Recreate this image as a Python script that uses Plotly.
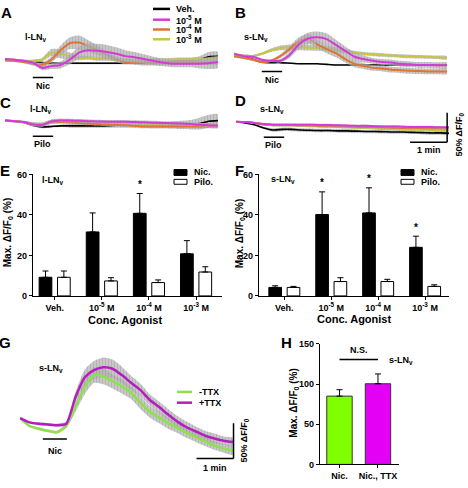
import plotly.graph_objects as go

W, H = 468, 488
FONT = "Liberation Sans, Arial, Helvetica, sans-serif"

# ---------------- data ----------------
# time base of the imaging traces (s)
t = [0, 15, 30, 45, 60, 75, 90, 105, 120, 135, 150, 165, 180, 195, 210, 225,
     240, 255, 270, 285, 300, 315, 330, 345]

# Panel A: l-LNv, nicotine (dF/F0 %)
a_veh = [0, 0, -1, -2, -3, -4, -4, -4, -4, -4, -4, -4, -4, -4, -3, -2.5, -2, -2, -1, 0, 0, 2, 7, 7.5]
a_veh_sem = [1, 1, 1, 1, 2, 2, 2, 2, 2, 2, 2, 2, 2, 2, 2, 2, 2, 3, 3, 4, 5, 6, 8, 8]
a_m5 = [3, 2, 0, -3, -12, -9, -7, 2, 14, 18, 17, 15, 12, 8, 6, 3, 0, -3, -5, -5, -5, -5, -4, -2]
a_m5_sem = [2, 2, 2, 3, 4, 5, 6, 8, 10, 12, 12, 12, 11, 10, 9, 8, 7, 6, 6, 6, 6, 8, 10, 10]
a_m4 = [2, 0, -2, -5, -7, 2, 18, 30, 31, 25, 18, 10, 3, -2, -3, -4, -4, -4, -3, -3, -3, -3, -3, -3]
a_m4_sem = [2, 2, 2, 3, 4, 5, 8, 10, 12, 10, 8, 6, 5, 4, 4, 4, 4, 4, 4, 4, 4, 4, 4, 4]
a_m3 = [0, 0, 0, 0, 2, 14, 12, 8, 5, 5, 3, 3, 2, 2, 1, 1, 2, 2, 2, 2.5, 2.5, 2.5, 2.5, 2.5]
a_m3_sem = [2, 2, 2, 2, 3, 6, 8, 6, 4, 3, 3, 3, 3, 3, 3, 3, 3, 3, 3, 3, 3, 3, 3, 3]

# Panel B: s-LNv, nicotine
b_veh = [8, 7, 3, -2.5, -3, -3, -4, -5, -5, -5, -6, -7, -7, -7, -7, -7, -7, -7, -7, -7, -7, -7, -7, -7]
b_veh_sem = [1] * 24
b_m5 = [12, 8, 7, 2, 0, 0, 10, 28, 38, 40, 37, 27, 17, 7, 3, 0, -2, -3, -5, -6, -7, -7, -7.5, -7.5]
b_m5_sem = [2, 2, 2, 2, 2, 3, 5, 8, 10, 10, 10, 9, 8, 7, 6, 5, 5, 5, 5, 5, 5, 5, 5, 5]
b_m4 = [8, 5, 2, -2, 0, 8, 20, 33, 38, 28, 20, 13, 3, -5, -9, -12, -13, -15, -16, -17, -17.5, -18, -18, -18]
b_m4_sem = [2, 2, 2, 2, 2, 3, 5, 7, 8, 7, 7, 7, 6, 6, 5, 5, 5, 5, 5, 5, 5, 5, 5, 5]
b_m3 = [10, 9, 8, 12, 18, 22, 23, 23, 22.5, 22, 21, 19, 17, 14, 12, 11, 10, 9, 8, 7.5, 7, 6.5, 6, 5]
b_m3_sem = [2, 2, 2, 2, 3, 4, 5, 5, 5, 5, 5, 4, 4, 3, 3, 3, 3, 3, 3, 3, 3, 3, 3, 3]

# Panel C: l-LNv, pilocarpine
c_veh = [0, -1, -3, -8, -11, -10, -9, -9, -9, -9, -9, -9, -8, -8, -8, -8, -8, -8, -7.5, -7.5, -7, -5, -1, 0]
c_veh_sem = [1, 1, 1, 2, 2, 2, 2, 3, 3, 3, 3, 3, 4, 4, 4, 4, 5, 5, 6, 7, 8, 10, 11, 11]
c_m5 = [0, -1, -2.5, -6.5, -7.5, -1.5, 0, 0, -0.5, -1, -1.5, -2, -2, -2, -2.5, -3, -3.5, -4, -4.5, -5, -6, -7, -8, -8.5]
c_m4 = [0, -1, -2.5, -6, -7, -3, -2.5, -3, -4, -5, -6, -7, -7.5, -8, -9, -10, -10, -10, -10, -10, -10, -10, -10, -10]
c_m3 = [0, -1, -2.5, -6, -6, -1, 0, -1, -1.5, -2.5, -3, -4, -5, -6, -6, -7, -7, -7, -7, -7, -7, -7, -7, -7]
c_sem = [2, 2, 2, 3, 3, 3, 3, 3, 3, 3, 3, 3, 3, 3, 3, 3, 3, 3, 3, 3, 3, 3, 3, 3]

# Panel D: s-LNv, pilocarpine
d_veh = [-2, -4, -7, -12.5, -16, -15, -15, -16, -16.5, -17, -17, -17.5, -17.5, -18, -18.5, -18.5, -19, -19.5, -19.5, -20, -20.5, -21, -21, -21.5]
d_veh_sem = [1, 1, 2, 2, 3, 3, 3, 3, 3, 3, 3, 3, 3, 3, 3, 3, 3, 3, 3, 3, 3, 3, 3, 3]
d_m5 = [-2, -2.5, -4, -6, -7, -7, -7, -7, -7, -7.5, -7.5, -8, -8.5, -9, -9, -9.5, -10, -10, -10.5, -11, -11, -11, -11.5, -11.5]
d_m4 = [-2, -2.5, -4, -6.5, -7.5, -7.5, -7.5, -8, -8, -9, -9, -9.5, -10, -10.5, -11, -11, -11.5, -12, -12.5, -12.5, -13, -13, -13, -13]
d_m3 = [-2, -2.5, -4, -6.5, -8, -8, -8, -9, -9.5, -10, -10.5, -11, -11.5, -12, -12.5, -13, -14, -14.5, -15, -15.5, -15.5, -16, -16.5, -16.5]
d_sem = [1, 1, 1, 2, 2, 2, 2, 2, 2, 2, 2, 2, 2, 2, 2, 2, 2, 2, 2, 2, 2, 2, 2, 2]

# Panel G: s-LNv, nicotine -/+ TTX
g_ttx_minus = [-1, -12, -16, -19, -21, -12, 15, 43, 60, 58, 51, 44, 35, 21, 8, 0, -8, -15, -22, -28, -34, -40, -44, -47]
g_ttx_minus_sem = [1, 1, 2, 2, 2, 3, 7, 10, 11, 11, 10, 10, 9, 9, 8, 8, 8, 7, 7, 7, 7, 6, 6, 6]
g_ttx_plus = [-1, -7, -9, -10, -11, -9, 29, 57, 67, 71, 69, 60, 49, 39, 25, 15, 4, -6, -14, -20, -26, -30, -33, -35]
g_ttx_plus_sem = [1, 1, 2, 2, 2, 3, 7, 11, 13, 14, 13, 12, 10, 9, 8, 8, 8, 8, 8, 7, 7, 7, 6, 6]

# stimulus periods (s)
stim_ad = [45, 78]
stim_g = [37, 76]

# Panels E / F: max dF/F0 (%)
conc_labels = ["Veh.", "10<sup>-5</sup> M", "10<sup>-4</sup> M", "10<sup>-3</sup> M"]
conc_pos = [0, 1, 2, 3]
e_nic = [9.2, 31.6, 40.8, 20.8]
e_nic_err = [3.1, 9.4, 9.8, 6.5]
e_pilo = [9.2, 7.4, 6.6, 11.8]
e_pilo_err = [3.1, 1.6, 1.3, 2.6]
e_sig = [False, False, True, False]
f_nic = [4.2, 40.2, 41.0, 24.0]
f_nic_err = [0.8, 11.2, 12.4, 5.5]
f_pilo = [4.2, 7.1, 7.1, 4.7]
f_pilo_err = [0.5, 1.9, 1.1, 0.8]
f_sig = [False, True, True, True]
ef_yticks = [0, 20, 40, 60]

# Panel H
h_labels = ["Nic.", "Nic., TTX"]
h_pos = [0, 1]
h_vals = [85, 100.4]
h_err = [8, 12.2]
h_yticks = [0, 50, 100, 150]

# ---------------- styling ----------------
BLACK = "#000000"
MAG = "#d63ad6"
ORA = "#e07432"
YEL = "#c6c642"
BAND_FG = "#8c8c8c"
BAND_BG = "rgba(200,200,200,0.6)"
G_GREEN = "#8fe04c"
G_MAG = "#b71cc0"
H_GREEN = "#80ff00"
H_MAG = "#e300f5"


def b(s):
    return "<b>" + str(s) + "</b>"


def px(x):
    return x / W


def py(y):
    return 1 - y / H


def sfx(i):
    return "" if i == 1 else str(i)


fig = go.Figure()


def band(i, vals, sem):
    up = [v + s for v, s in zip(vals, sem)]
    lo = [v - s for v, s in zip(vals, sem)]
    fig.add_trace(go.Scatter(
        x=t + t[::-1], y=up + lo[::-1], mode="lines", fill="toself",
        fillcolor=BAND_BG,
        fillpattern=dict(shape="|", fgcolor=BAND_FG, bgcolor=BAND_BG, size=3, solidity=0.7),
        line=dict(width=0, shape="spline", smoothing=0.6),
        hoverinfo="skip", xaxis="x" + sfx(i), yaxis="y" + sfx(i)))


def line(i, vals, color, lw=2):
    fig.add_trace(go.Scatter(
        x=t, y=vals, mode="lines",
        line=dict(color=color, width=lw, shape="spline", smoothing=0.6),
        xaxis="x" + sfx(i), yaxis="y" + sfx(i)))


def series(i, vals, sem, color, lw=2):
    if sem is not None:
        band(i, vals, sem)
    line(i, vals, color, lw)


# A
series(1, a_veh, a_veh_sem, BLACK, 1.6)
series(1, a_m3, a_m3_sem, YEL)
series(1, a_m4, a_m4_sem, ORA)
series(1, a_m5, a_m5_sem, MAG)
# B
series(2, b_veh, b_veh_sem, BLACK, 1.6)
series(2, b_m3, b_m3_sem, YEL)
series(2, b_m4, b_m4_sem, ORA)
series(2, b_m5, b_m5_sem, MAG)
# C
series(3, c_veh, c_veh_sem, BLACK, 1.6)
series(3, c_m3, c_sem, YEL)
series(3, c_m4, c_sem, ORA)
series(3, c_m5, c_sem, MAG)
# D
series(4, d_veh, d_veh_sem, BLACK, 1.6)
series(4, d_m3, d_sem, YEL)
series(4, d_m4, d_sem, ORA)
series(4, d_m5, d_sem, MAG)
# G (bands first, then lines)
band(7, g_ttx_minus, g_ttx_minus_sem)
band(7, g_ttx_plus, g_ttx_plus_sem)
line(7, g_ttx_minus, G_GREEN, 2.5)
line(7, g_ttx_plus, G_MAG, 2.5)


def err(arr):
    return dict(type="data", symmetric=False, array=arr, arrayminus=[0] * len(arr),
                color=BLACK, thickness=1, width=3)


BW = 0.27
# E
fig.add_trace(go.Bar(x=conc_pos, y=e_nic, width=BW, offset=-0.33, marker=dict(color=BLACK, line=dict(color=BLACK, width=1)),
                     error_y=err(e_nic_err), xaxis="x5", yaxis="y5"))
fig.add_trace(go.Bar(x=conc_pos, y=e_pilo, width=BW, offset=0.06, marker=dict(color="white", line=dict(color=BLACK, width=1)),
                     error_y=err(e_pilo_err), xaxis="x5", yaxis="y5"))
# F
fig.add_trace(go.Bar(x=conc_pos, y=f_nic, width=BW, offset=-0.33, marker=dict(color=BLACK, line=dict(color=BLACK, width=1)),
                     error_y=err(f_nic_err), xaxis="x6", yaxis="y6"))
fig.add_trace(go.Bar(x=conc_pos, y=f_pilo, width=BW, offset=0.06, marker=dict(color="white", line=dict(color=BLACK, width=1)),
                     error_y=err(f_pilo_err), xaxis="x6", yaxis="y6"))
# H
fig.add_trace(go.Bar(x=h_pos, y=h_vals, width=0.66, marker=dict(color=[H_GREEN, H_MAG], line=dict(color="#333333", width=1)),
                     error_y=err(h_err), xaxis="x8", yaxis="y8"))

# ---------------- axes ----------------
axes = {}


def hidden_axes(i, xd, yd, xr, yr):
    axes["xaxis" + sfx(i)] = dict(domain=[px(xd[0]), px(xd[1])], range=xr, visible=False,
                                  anchor="y" + sfx(i), fixedrange=True)
    axes["yaxis" + sfx(i)] = dict(domain=[py(yd[1]), py(yd[0])], range=yr, visible=False,
                                  anchor="x" + sfx(i), fixedrange=True)


hidden_axes(1, (5, 218), (18, 81), [0, 345], [-40, 65])
hidden_axes(2, (234, 447), (18, 81), [0, 345], [-40, 65])
hidden_axes(3, (5, 218), (94, 151), [0, 345], [-55, 40])
hidden_axes(4, (236, 449), (94, 151), [0, 345], [-55, 40])
hidden_axes(7, (20, 236), (354.8, 471.4), [0, 350], [-70, 92])

AXSTYLE = dict(showline=True, linecolor=BLACK, linewidth=1.2, ticks="outside", ticklen=3,
               tickwidth=1, tickcolor=BLACK, showgrid=False, zeroline=False, fixedrange=True,
               tickfont=dict(size=9, family=FONT, color=BLACK))


def bar_axes(i, xd, yd, xr, yr, tickvals_x, ticktext_x, tickvals_y):
    axes["xaxis" + sfx(i)] = dict(domain=[px(xd[0]), px(xd[1])], range=xr, anchor="y" + sfx(i),
                                  tickvals=tickvals_x, ticktext=[b(s) for s in ticktext_x], **AXSTYLE)
    axes["yaxis" + sfx(i)] = dict(domain=[py(yd[1]), py(yd[0])], range=yr, anchor="x" + sfx(i),
                                  tickvals=tickvals_y, ticktext=[b(v) for v in tickvals_y], **AXSTYLE)


bar_axes(5, (33, 222), (173, 297), [-0.46, 3.55], [0, 60], conc_pos, conc_labels, ef_yticks)
bar_axes(6, (259, 449), (173, 297), [-0.54, 3.51], [0, 60], conc_pos, conc_labels, ef_yticks)
bar_axes(8, (320, 399), (346, 469), [-0.506, 1.546], [0, 150], h_pos, h_labels, h_yticks)

# ---------------- shapes & annotations ----------------
shapes = []
anns = []


def pann(x, y, text, size=9, xanchor="center", yanchor="middle", angle=0):
    anns.append(dict(x=px(x), y=py(y), xref="paper", yref="paper", text=b(text), showarrow=False,
                     xanchor=xanchor, yanchor=yanchor, textangle=angle,
                     font=dict(size=size, family=FONT, color=BLACK)))


def dann(i, x, y, text, size=9, xshift=0, yshift=0, angle=0, xanchor="center", yanchor="middle"):
    anns.append(dict(x=x, y=y, xref="x" + sfx(i), yref="y" + sfx(i), text=b(text), showarrow=False,
                     xshift=xshift, yshift=yshift, textangle=angle, xanchor=xanchor, yanchor=yanchor,
                     font=dict(size=size, family=FONT, color=BLACK)))


def dline(i, x0, y0, x1, y1, w=1.5):
    shapes.append(dict(type="line", xref="x" + sfx(i), yref="y" + sfx(i), x0=x0, y0=y0, x1=x1, y1=y1,
                       line=dict(color=BLACK, width=w)))


# panel letters
for letter, (lx, ly) in {"A": (6, 8), "B": (241, 8), "C": (5, 100), "D": (241, 98),
                         "E": (5, 169), "F": (240, 169), "G": (5, 345), "H": (286, 345)}.items():
    pann(lx, ly, letter, size=15)

# cell-type labels
LL = "l-LN<sub>v</sub>"
SL = "s-LN<sub>v</sub>"
pann(36, 33, LL)
pann(256, 33, SL)
pann(41, 107, LL)
pann(272, 107, SL)
pann(53, 179, LL)
pann(283, 178, SL)
pann(51, 371, SL)
pann(401, 363, SL)

# stimulus bars
dline(1, stim_ad[0], -28.3, stim_ad[1], -28.3)
dann(1, sum(stim_ad) / 2, -28.3, "Nic", yshift=-9)
dline(2, stim_ad[0], -18.3, stim_ad[1], -18.3)
dann(2, sum(stim_ad) / 2, -18.3, "Nic", yshift=-8)
dline(3, stim_ad[0], -26.7, stim_ad[1], -26.7)
dann(3, sum(stim_ad) / 2, -26.7, "Pilo", yshift=-8)
dline(4, stim_ad[0], -28.3, stim_ad[1], -28.3)
dann(4, sum(stim_ad) / 2, -28.3, "Pilo", yshift=-8)
dline(7, stim_g[0], -30.6, stim_g[1], -30.6)
dann(7, sum(stim_g) / 2, -30.6, "Nic", yshift=-12)

# scale bars (1 min, 50% dF/F0)
dline(4, 282, -36.7, 342, -36.7)
dline(4, 342, -36.7, 342, 13.3)
dann(4, 312, -36.7, "1 min", yshift=-8)
dann(4, 342, -11.7, "50% ΔF/F<sub>0</sub>", xshift=12, yshift=-7, angle=-90)
dline(7, 286, -58.3, 346, -58.3)
dline(7, 346, -58.3, 346, -8.3)
dann(7, 316, -58.3, "1 min", yshift=-10)
dann(7, 346, -33.3, "50% ΔF/F<sub>0</sub>", xshift=11, angle=-90)

# legend A
for (ly, col, txt) in [(4, BLACK, "Veh."), (15, MAG, "10<sup>-5</sup> M"),
                       (25, ORA, "10<sup>-4</sup> M"), (35, YEL, "10<sup>-3</sup> M")]:
    shapes.append(dict(type="line", xref="paper", yref="paper", x0=px(153), x1=px(170), y0=py(ly), y1=py(ly),
                       line=dict(color=col, width=2.5)))
    pann(174, ly, txt, xanchor="left")

# legend G
for (ly, col, txt) in [(395, G_GREEN, "-TTX"), (406, G_MAG, "+TTX")]:
    shapes.append(dict(type="line", xref="paper", yref="paper", x0=px(177), x1=px(192), y0=py(ly), y1=py(ly),
                       line=dict(color=col, width=2.5)))
    pann(197, ly, txt, xanchor="left")

# legends E/F
for x0 in (174, 401):
    shapes.append(dict(type="rect", xref="paper", yref="paper", x0=px(x0), x1=px(x0 + 13), y0=py(174), y1=py(168),
                       fillcolor=BLACK, line=dict(color=BLACK, width=1)))
    shapes.append(dict(type="rect", xref="paper", yref="paper", x0=px(x0), x1=px(x0 + 13), y0=py(183), y1=py(178),
                       fillcolor="white", line=dict(color=BLACK, width=1)))
    pann(x0 + 18, 171, "Nic.", xanchor="left")
    pann(x0 + 18, 181, "Pilo.", xanchor="left")

# significance stars
for i, (vals, errs, sig) in ((5, (e_nic, e_nic_err, e_sig)), (6, (f_nic, f_nic_err, f_sig))):
    for k in range(4):
        if sig[k]:
            dann(i, conc_pos[k] - 0.195, vals[k] + errs[k], "*", size=10, yshift=9)

# axis titles
YT = "Max. ΔF/F<sub>0</sub> (%)"
pann(8, 233, YT, size=10, angle=-90)
pann(240, 233, YT, size=10, angle=-90)
pann(294, 407, YT, size=10, angle=-90)
pann(125, 322, "Conc. Agonist", size=11)
pann(354, 321, "Conc. Agonist", size=11)

# N.S.
dline(8, 0, 130.5, 1, 130.5, w=1.5)
dann(8, 0.5, 130.5, "N.S.", yshift=10)

fig.update_layout(
    width=W, height=H, margin=dict(l=0, r=0, t=0, b=0),
    paper_bgcolor="white", plot_bgcolor="white", showlegend=False,
    font=dict(family=FONT, color=BLACK, size=9),
    barmode="overlay", shapes=shapes, annotations=anns, **axes)

fig.write_html("out.html", config={"displayModeBar": False},
               post_script="document.body.style.margin='0px';document.body.style.overflow='hidden';")
